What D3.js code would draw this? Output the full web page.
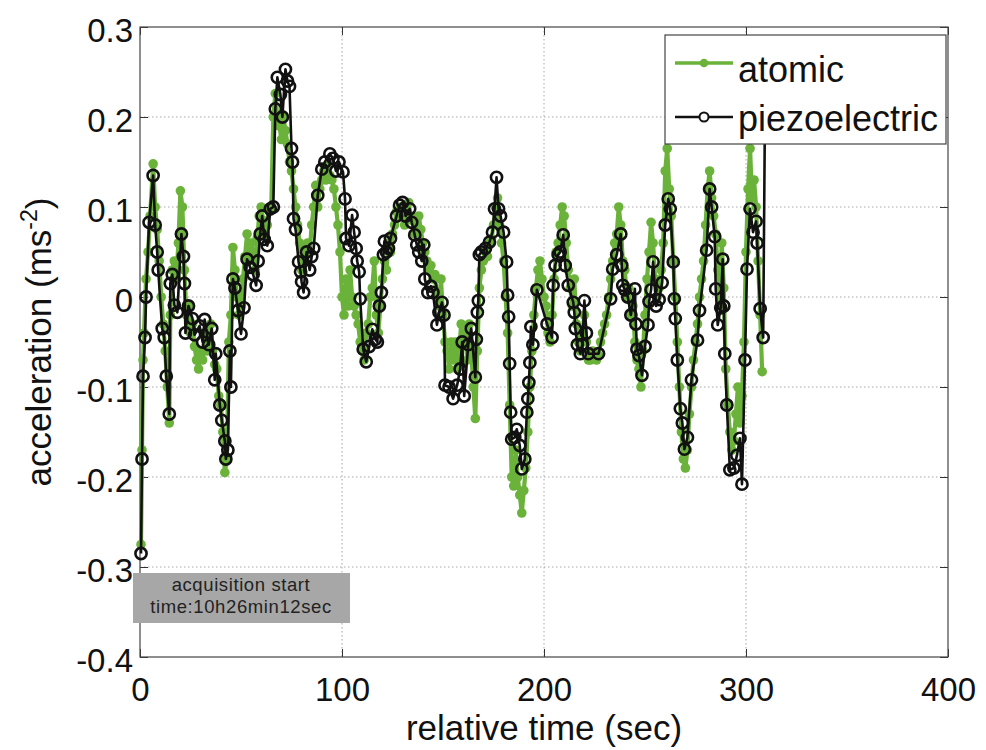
<!DOCTYPE html>
<html>
<head>
<meta charset="utf-8">
<script src="https://cdn.jsdelivr.net/npm/d3@7"></script>
<style>
  html, body { margin: 0; padding: 0; background: #fff; }
  text { font-family: "Liberation Sans", Arial, sans-serif; }
</style>
</head>
<body>
<svg id="chart" width="986" height="750"></svg>
<script>
// ---------- data ----------
const xTicks = [0, 100, 200, 300, 400];
const yTicks = [-0.4, -0.3, -0.2, -0.1, 0, 0.1, 0.2, 0.3];
const xTickLabels = ["0", "100", "200", "300", "400"];
const yTickLabels = ["-0.4", "-0.3", "-0.2", "-0.1", "0", "0.1", "0.2", "0.3"];
const seriesNames = ["atomic", "piezoelectric"];
const annotationLines = ["acquisition start", "time:10h26min12sec"];

// piezoelectric: time (s) and acceleration (m s^-2)
const piezoTime = [0.5,1,1.5,2.5,3,4.5,6.5,7.5,8.5,9,11,12,13,14.5,15,16,17,18.5,20.5,21.5,22,22.5,24,26,27,29.5,31,32,34,35.5,37,37.5,39.5,40.5,42,42.5,43.5,44.5,45,46,47,48.5,50,51.5,53,54.5,56,57.5,58.5,59.5,60.5,61.5,63,64.5,66,67,68,69.5,70.5,72,73,74,75,75.5,76,77,78.5,79.5,80,81,82.5,84,85,86,88,90,91.5,94,95.5,97,98.5,100.5,101.5,102,103.5,105,106,107,107.5,108.5,109,110.5,112,113.5,115,116.5,117.5,118.5,119.5,120.5,121,122,123,124,127,128.5,130,131.5,133.5,134.5,136,137,138,139.5,140.5,141,142.5,144,145,147,148,149.5,150.5,151,153,155,157,158.5,159.5,160.5,162.5,164,166,166.5,167,167.5,168,169,171,173,174.5,175.5,176.5,177.5,178.5,180,181.5,182,182.5,183,183.5,184,185.5,186.5,188,189,190.5,191.5,192,192.5,193,193.5,194.5,196.5,201.5,204,204.5,205.5,207,208,209.5,210.5,212,214.5,215,215.5,216.5,218,219,220,221,222,227,233,234,236,238,238.5,239,240,241.5,243,245,245.5,246,247,248.5,250,251.5,252,253,254,255.5,257,258.5,260,261.5,262.5,264,264.5,265,266,267.5,268.5,269.5,271,273,276,277,280.5,282,283,284.5,285,286,287.5,288.5,289,289.5,290.5,292,294,295.5,297,298,299.5,300.5,302,303.5,305,305.5,307,308.5,309.5];
const piezoAccel = [-0.285,-0.18,-0.088,-0.045,0.0,0.083,0.135,0.08,0.05,0.03,-0.035,-0.045,-0.088,-0.13,0.015,0.025,-0.009,-0.017,0.07,0.045,0.015,-0.04,-0.01,-0.024,-0.042,-0.032,-0.05,-0.025,-0.053,-0.035,-0.092,-0.063,-0.12,-0.137,-0.16,-0.18,-0.17,-0.06,-0.1,0.02,0.01,-0.015,-0.041,-0.012,0.042,0.033,0.025,0.013,0.04,0.07,0.09,0.064,0.057,0.098,0.1,0.209,0.244,0.225,0.2,0.253,0.24,0.234,0.165,0.15,0.087,0.075,0.039,0.028,0.017,0.005,0.05,0.03,0.045,0.054,0.113,0.142,0.15,0.159,0.154,0.14,0.15,0.139,0.109,0.065,0.057,0.091,0.072,0.054,0.04,0.028,-0.002,-0.058,-0.072,-0.055,-0.036,-0.047,-0.05,-0.01,0.005,0.047,0.062,0.05,0.054,0.065,0.09,0.102,0.105,0.09,0.098,0.083,0.069,0.058,0.05,0.04,0.058,0.02,0.005,0.012,0.005,-0.031,-0.017,-0.006,-0.02,-0.098,-0.1,-0.113,-0.098,-0.08,-0.05,-0.11,-0.053,-0.035,-0.089,-0.047,-0.017,-0.004,0.047,0.05,0.054,0.061,0.072,0.098,0.133,0.098,0.09,0.072,0.039,0.002,-0.022,-0.074,-0.128,-0.158,-0.156,-0.147,-0.165,-0.191,-0.18,-0.128,-0.113,-0.095,-0.073,-0.033,-0.053,0.008,-0.03,-0.045,0.013,0.035,0.047,0.05,0.069,0.035,0.013,-0.006,-0.017,-0.035,-0.053,-0.063,-0.053,-0.004,-0.04,-0.063,-0.063,-0.002,0.031,0.047,0.07,0.035,0.013,0.008,0.0,-0.02,0.009,-0.03,-0.058,-0.065,-0.087,-0.055,-0.031,-0.005,0.008,0.039,-0.01,-0.003,0.016,0.08,0.109,0.098,0.039,-0.002,-0.024,-0.07,-0.124,-0.14,-0.169,-0.156,-0.092,-0.048,-0.015,0.052,0.12,0.1,0.067,0.009,-0.031,-0.012,0.042,-0.01,-0.063,-0.12,-0.192,-0.19,-0.176,-0.157,-0.208,-0.07,0.031,0.098,0.072,0.084,0.06,-0.013,-0.045,0.24];

// atomic: time (s) and acceleration (m s^-2)
const atomicTime = [0.5,1,1.5,2,3,4,5,6.5,7.5,8.5,9.5,10.5,11.5,12.5,13.5,14.5,15,16,17,18,19,20,21,22,23,24,25,26,27,28,29,30,31,32,33,34,35,36,37,38,39,40,41,42,43,44,45,46,47,48,49,50,51,52,53,54,55,56,57,58,59,60,61,62,63,64,65,66,67,68,69,70,71,72,73,74,75,76,77,78,79,80,81,82,83,84,85,86,87,88,89,90,91,92,93,94,95,96,97,98,99,100,101,102,103,104,105,106,107,108,109,110,111,112,113,114,115,116,117,118,119,120,121,122,123,124,125,126,127,128,129,130,131,132,133,134,135,136,137,138,139,140,141,142,143,144,145,146,147,148,149,150,151,152,153,154,155,156,157,158,159,160,161,162,163,164,165,166,167,168,169,170,171,172,173,174,175,176,177,178,179,180,181,182,183,184,185,186,187,188,189,190,191,192,193,194,195,196,197,198,199,200,201,202,203,204,205,206,207,208,209,210,211,212,213,214,215,216,217,218,219,220,221,222,223,224,225,226,227,228,229,230,231,232,233,234,235,236,237,238,239,240,241,242,243,244,245,246,247,248,249,250,251,252,253,254,255,256,257,258,259,260,261,262,263,264,265,266,267,268,269,270,271,272,273,274,275,276,277,278,279,280,281,282,283,284,285,286,287,288,289,290,291,292,293,294,295,296,297,298,299,300,301,302,303,304,305,306,307,308];
const atomicAccel = [-0.275,-0.17,-0.07,-0.04,0.02,0.05,0.09,0.148,0.1,0.075,0.04,0.0,-0.03,-0.06,-0.1,-0.14,-0.02,0.03,0.04,0.02,0.06,0.118,0.1,0.03,-0.02,-0.01,-0.04,-0.03,-0.055,-0.07,-0.08,-0.06,-0.07,-0.04,-0.06,-0.05,-0.03,-0.06,-0.075,-0.08,-0.11,-0.12,-0.15,-0.195,-0.18,-0.05,-0.02,0.055,0.03,0.0,-0.02,-0.01,0.02,0.045,0.07,0.04,0.06,0.05,0.03,0.065,0.09,0.1,0.085,0.07,0.08,0.095,0.1,0.2,0.226,0.2,0.19,0.175,0.2,0.185,0.17,0.15,0.14,0.12,0.1,0.08,0.06,0.03,0.04,0.055,0.06,0.05,0.08,0.1,0.124,0.1,0.12,0.13,0.14,0.13,0.145,0.135,0.13,0.12,0.1,0.08,0.05,0.0,-0.02,0.02,-0.01,0.03,0.0,-0.01,-0.02,-0.03,-0.05,-0.06,-0.07,-0.04,-0.03,0.0,0.01,0.04,-0.02,-0.04,-0.01,0.02,0.04,0.03,0.06,0.05,0.07,0.08,0.095,0.09,0.1,0.1,0.08,0.095,0.105,0.09,0.085,0.07,0.075,0.09,0.075,0.06,0.05,0.04,0.03,0.035,0.02,0.025,0.0,-0.01,0.02,-0.02,-0.05,-0.06,-0.08,-0.05,-0.07,-0.05,-0.08,-0.06,-0.03,-0.05,-0.04,-0.07,-0.03,-0.06,-0.1,-0.135,-0.06,0.01,0.03,0.04,0.05,0.045,0.06,0.065,0.08,0.1,0.11,0.08,0.06,0.04,0.0,-0.04,-0.12,-0.2,-0.21,-0.17,-0.2,-0.22,-0.24,-0.215,-0.19,-0.15,-0.1,-0.06,-0.02,0.01,0.03,0.04,0.02,0.0,-0.01,-0.04,-0.05,-0.02,0.02,0.05,0.06,0.08,0.1,0.09,0.06,0.03,0.01,-0.01,0.02,-0.03,-0.05,-0.06,-0.04,-0.02,-0.05,-0.07,-0.07,-0.06,-0.065,-0.07,-0.065,-0.05,-0.04,-0.03,-0.02,0.0,0.02,0.04,0.06,0.07,0.1,0.08,0.04,0.03,0.0,0.01,-0.02,-0.01,-0.05,-0.07,-0.08,-0.1,-0.06,-0.02,0.02,0.05,0.083,0.06,0.02,0.0,0.01,0.03,0.06,0.14,0.165,0.12,0.09,0.04,0.0,-0.05,-0.1,-0.15,-0.18,-0.19,-0.17,-0.13,-0.1,-0.07,-0.05,-0.03,0.0,0.02,0.04,0.08,0.12,0.14,0.11,0.09,0.07,0.03,0.0,0.06,0.01,-0.08,-0.12,-0.15,-0.17,-0.16,-0.13,-0.1,-0.14,-0.11,-0.05,0.05,0.12,0.165,0.11,0.13,0.1,0.04,-0.02,-0.083];

// ---------- layout ----------
const svg = d3.select("#chart");
const M = { left: 140, right: 948, top: 27, bottom: 657 };
const x = d3.scaleLinear().domain([0, 400]).range([M.left, M.right]);
const y = d3.scaleLinear().domain([-0.4, 0.3]).range([M.bottom, M.top]);
const GREEN = "#6ab23a";

svg.append("rect").attr("x", 0).attr("y", 0).attr("width", 986).attr("height", 750).attr("fill", "#fff");

// grid
const grid = svg.append("g");
grid.selectAll(".gx").data(xTicks.slice(1, -1)).join("line")
  .attr("x1", d => x(d)).attr("x2", d => x(d))
  .attr("y1", M.top).attr("y2", M.bottom)
  .attr("stroke", "#a8a8a8").attr("stroke-width", 1).attr("stroke-dasharray", "1.5,2.5");
grid.selectAll(".gy").data(yTicks.slice(1, -1)).join("line")
  .attr("y1", d => y(d)).attr("y2", d => y(d))
  .attr("x1", M.left).attr("x2", M.right)
  .attr("stroke", "#a8a8a8").attr("stroke-width", 1).attr("stroke-dasharray", "1.5,2.5");

// axes (ticks inward, labels)
const xAxis = d3.axisBottom(x).tickValues(xTicks).tickSize(-8).tickPadding(18)
  .tickFormat((d, i) => xTickLabels[i]);
const gx = svg.append("g").attr("transform", `translate(0,${M.bottom})`).call(xAxis);
gx.select(".domain").remove();
gx.selectAll("line").attr("stroke", "#333");
gx.selectAll("text").attr("font-size", 33).attr("fill", "#111")
  .attr("font-family", "Liberation Sans, Arial, sans-serif").attr("dy", "0.78em");

const yAxis = d3.axisLeft(y).tickValues(yTicks).tickSize(-8).tickPadding(7)
  .tickFormat((d, i) => yTickLabels[i]);
const gy = svg.append("g").attr("transform", `translate(${M.left},0)`).call(yAxis);
gy.select(".domain").remove();
gy.selectAll("line").attr("stroke", "#333");
gy.selectAll("text").attr("font-size", 33).attr("fill", "#111")
  .attr("font-family", "Liberation Sans, Arial, sans-serif").attr("dy", "0.45em");

// top / right ticks
svg.append("g").attr("transform", `translate(0,${M.top})`)
  .call(d3.axisTop(x).tickValues(xTicks).tickSize(-8).tickFormat(""))
  .call(g => { g.select(".domain").remove(); g.selectAll("line").attr("stroke", "#333"); });
svg.append("g").attr("transform", `translate(${M.right},0)`)
  .call(d3.axisRight(y).tickValues(yTicks).tickSize(-8).tickFormat(""))
  .call(g => { g.select(".domain").remove(); g.selectAll("line").attr("stroke", "#333"); });

// frame
svg.append("rect").attr("x", M.left).attr("y", M.top)
  .attr("width", M.right - M.left).attr("height", M.bottom - M.top)
  .attr("fill", "none").attr("stroke", "#444").attr("stroke-width", 1.2);

// ---------- series ----------
const atomic = atomicTime.map((t, i) => ({ t, v: atomicAccel[i] }));
const piezo = piezoTime.map((t, i) => ({ t, v: piezoAccel[i] }));
const line = d3.line().x(d => x(d.t)).y(d => y(d.v));

svg.append("path").datum(atomic).attr("d", line)
  .attr("fill", "none").attr("stroke", GREEN).attr("stroke-width", 4.2).attr("stroke-linejoin", "round");
svg.append("g").selectAll("circle").data(atomic).join("circle")
  .attr("cx", d => x(d.t)).attr("cy", d => y(d.v)).attr("r", 4.8).attr("fill", GREEN);

svg.append("path").datum(piezo).attr("d", line)
  .attr("fill", "none").attr("stroke", "#111").attr("stroke-width", 2.6).attr("stroke-linejoin", "round");
svg.append("g").selectAll("circle").data(piezo).join("circle")
  .attr("cx", d => x(d.t)).attr("cy", d => y(d.v)).attr("r", 5.6)
  .attr("fill", "none").attr("stroke", "#111").attr("stroke-width", 2.6);

// ---------- legend ----------
const lg = svg.append("g");
lg.append("rect").attr("x", 665).attr("y", 35).attr("width", 281).attr("height", 109)
  .attr("fill", "#fff").attr("stroke", "#444").attr("stroke-width", 1.2);
lg.append("line").attr("x1", 675).attr("x2", 733).attr("y1", 63).attr("y2", 63)
  .attr("stroke", GREEN).attr("stroke-width", 3.5);
lg.append("circle").attr("cx", 704).attr("cy", 63).attr("r", 4.3).attr("fill", GREEN);
lg.append("text").attr("x", 738).attr("y", 82).attr("font-size", 36).attr("fill", "#111").text(seriesNames[0]);
lg.append("line").attr("x1", 675).attr("x2", 733).attr("y1", 117).attr("y2", 117)
  .attr("stroke", "#111").attr("stroke-width", 2.3);
lg.append("circle").attr("cx", 704).attr("cy", 117).attr("r", 4.5)
  .attr("fill", "#fff").attr("stroke", "#111").attr("stroke-width", 2);
lg.append("text").attr("x", 738).attr("y", 131).attr("font-size", 36).attr("fill", "#111").text(seriesNames[1]);

// ---------- annotation ----------
svg.append("rect").attr("x", 133).attr("y", 573).attr("width", 217).attr("height", 50)
  .attr("fill", "#a7a7a7");
svg.append("g").selectAll("text").data(annotationLines).join("text")
  .attr("x", 241).attr("y", (d, i) => 591 + i * 22)
  .attr("text-anchor", "middle").attr("font-size", 18.5)
  .attr("letter-spacing", 0.6)
  .attr("font-family", "DejaVu Sans, sans-serif").attr("fill", "#222")
  .text(d => d);

// ---------- axis titles ----------
svg.append("text").attr("x", 544).attr("y", 740).attr("text-anchor", "middle")
  .attr("font-size", 35).attr("fill", "#111").text("relative time (sec)");
const yl = svg.append("text").attr("transform", "translate(51,342) rotate(-90)")
  .attr("text-anchor", "middle").attr("font-size", 35).attr("fill", "#111");
yl.append("tspan").text("acceleration (ms");
yl.append("tspan").attr("dy", -14).attr("font-size", 23).text("-2");
yl.append("tspan").attr("dy", 14).text(")");
</script>
</body>
</html>
